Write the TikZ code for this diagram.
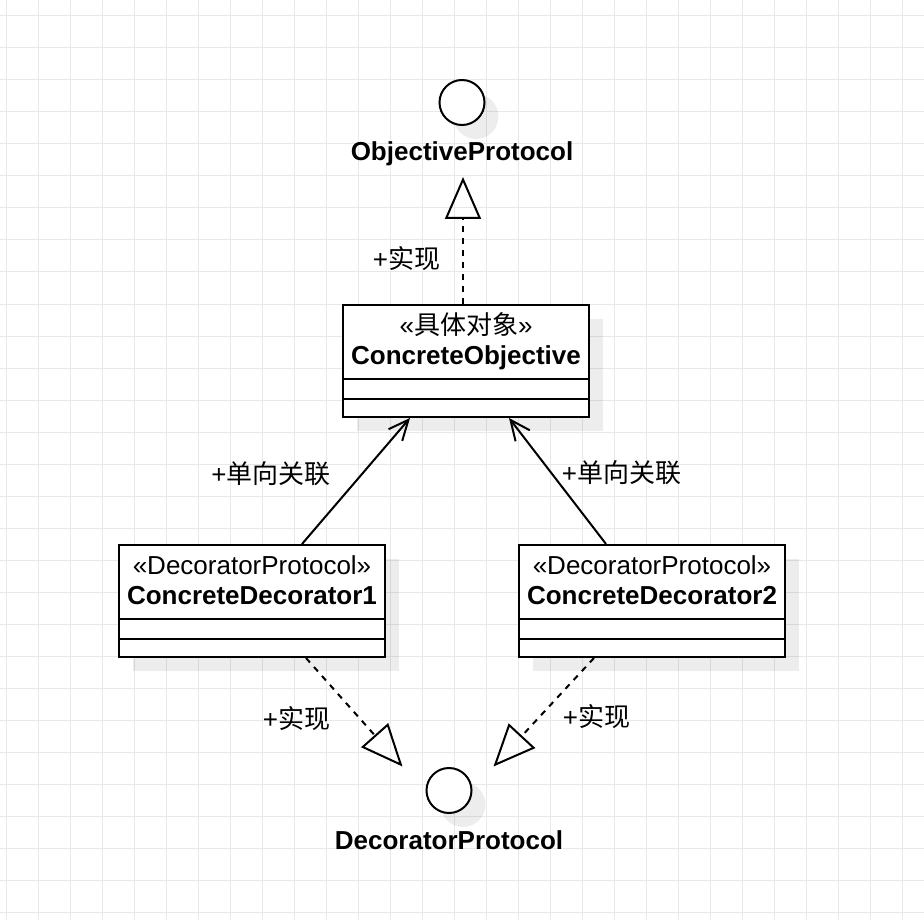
\documentclass[tikz,border=0pt]{standalone}
\usepackage{fontspec}
\setmainfont{Liberation Sans}
\newfontfamily\cjk{Noto Sans CJK SC}
\usetikzlibrary{arrows.meta,shadows,positioning}

\tikzset{
  gridline/.style={draw=black!9, line width=1pt},
  umlshadow/.style={drop shadow={shadow xshift=14pt, shadow yshift=-14pt, fill=black, opacity=0.07}},
  umlclass/.style={draw, line width=2pt, fill=white, minimum height=112pt, inner sep=0pt, umlshadow},
  iface/.style={circle, draw, line width=2pt, fill=white, minimum size=45pt, inner sep=0pt, umlshadow},
  lbl/.style={font=\fontsize{26}{30}\selectfont, inner sep=0pt, anchor=base},
  realize/.style={line width=2pt, dash pattern=on 6pt off 6pt, -{Triangle[open, length=42pt, width=36pt, sep=0pt]}},
  assoc/.style={line width=2pt, -{Straight Barb[length=20pt, width=18pt]}},
}

\begin{document}
\begin{tikzpicture}[x=1pt,y=-1pt]
  % background and grid
  \fill[white] (0,0) rectangle (924,920);
  \useasboundingbox (0,0) rectangle (924,920);
  \foreach \gx in {6,38,...,922}
    \draw[gridline] (\gx,0) -- (\gx,920);
  \foreach \gy in {16,48,...,920}
    \draw[gridline] (0,\gy) -- (924,\gy);

  % interfaces
  \node[iface] (objproto) at (462,102.5) {};
  \node[lbl, font=\fontsize{26}{30}\selectfont\bfseries] (objproto label) at (462,161) {ObjectiveProtocol};
  \node[iface] (decproto) at (449,790.5) {};
  \node[lbl, font=\fontsize{26}{30}\selectfont\bfseries] (decproto label) at (449,849) {DecoratorProtocol};

  % classes
  \node[umlclass, minimum width=246pt] (obj)  at (466,361) {};
  \node[umlclass, minimum width=266pt] (dec1) at (252,601) {};
  \node[umlclass, minimum width=266pt] (dec2) at (652,601) {};
  \foreach \cls in {obj,dec1,dec2} {
    \draw[line width=2pt] ([yshift=-75pt]\cls.north west) -- ([yshift=-75pt]\cls.north east);
    \draw[line width=2pt] ([yshift=-95pt]\cls.north west) -- ([yshift=-95pt]\cls.north east);
  }
  \node[lbl] (obj stereo) at ([yshift=-30pt]obj.north) {«{\cjk 具体对象}»};
  \node[lbl, font=\fontsize{26}{30}\selectfont\bfseries] (obj name) at ([yshift=-60pt]obj.north) {ConcreteObjective};
  \node[lbl] (dec1 stereo) at ([yshift=-30pt]dec1.north) {«DecoratorProtocol»};
  \node[lbl, font=\fontsize{26}{30}\selectfont\bfseries] (dec1 name) at ([yshift=-60pt]dec1.north) {ConcreteDecorator1};
  \node[lbl] (dec2 stereo) at ([yshift=-30pt]dec2.north) {«DecoratorProtocol»};
  \node[lbl, font=\fontsize{26}{30}\selectfont\bfseries] (dec2 name) at ([yshift=-60pt]dec2.north) {ConcreteDecorator2};

  % arrow tips of the realizations
  \coordinate (objproto tip) at (463,177);
  \coordinate (decproto tip 1) at (402.5,766.5);
  \coordinate (decproto tip 2) at (493.5,766.5);

  % connectors
  \draw[realize] ([xshift=-3pt]obj.north) -- (objproto tip);
  \draw[realize] ([xshift=54pt]dec1.south) -- (decproto tip 1);
  \draw[realize] ([xshift=-58pt]dec2.south) -- (decproto tip 2);
  \draw[assoc] ([xshift=50pt]dec1.north) -- ([xshift=-56pt]obj.south);
  \draw[assoc] ([xshift=-46pt]dec2.north) -- ([xshift=43pt]obj.south);

  % connector labels
  \node[lbl] (realize label 1) at (406.5,269) {+{\cjk 实现}};
  \node[lbl] (assoc label 1) at (271,483) {+{\cjk 单向关联}};
  \node[lbl] (assoc label 2) at (621.5,482) {+{\cjk 单向关联}};
  \node[lbl] (realize label 2) at (296.5,728) {+{\cjk 实现}};
  \node[lbl] (realize label 3) at (596.5,726) {+{\cjk 实现}};
\end{tikzpicture}
\end{document}
